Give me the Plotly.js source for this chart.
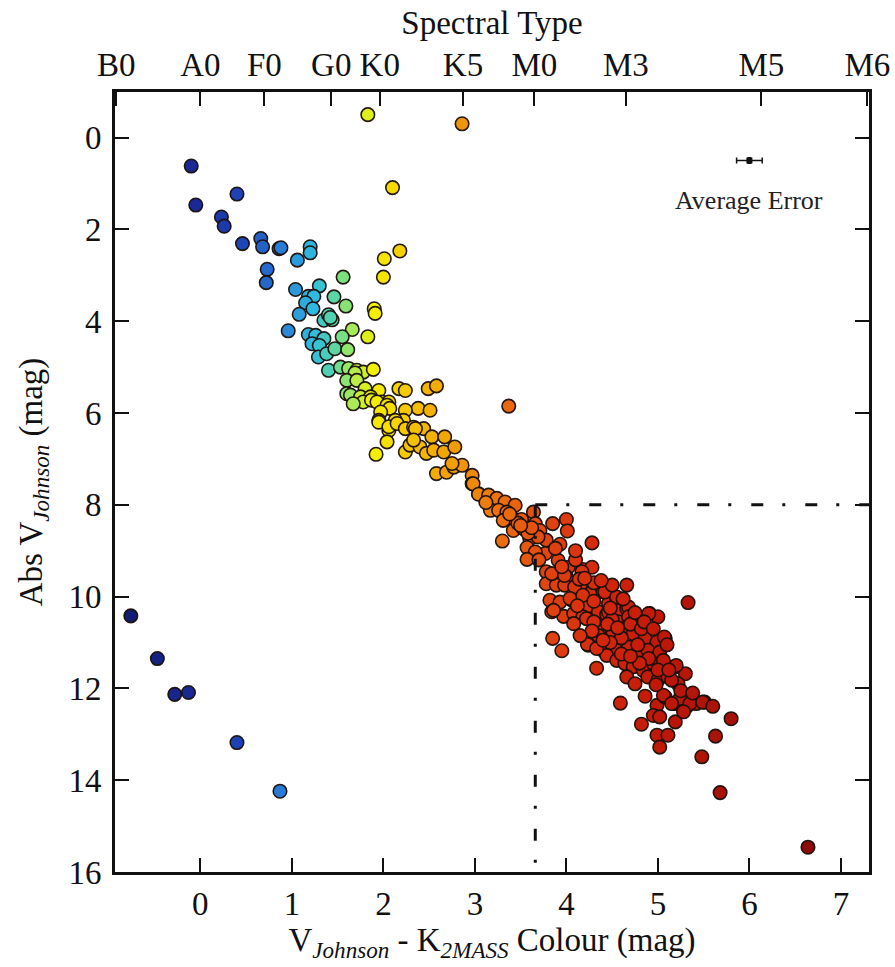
<!DOCTYPE html>
<html>
<head>
<meta charset="utf-8">
<script src="https://cdn.plot.ly/plotly-3.0.1.min.js"></script>
<style>html,body{margin:0;padding:0;background:#fff;}#chart{width:895px;height:967px;}</style>
</head>
<body>
<div id="chart"></div>
<script>
// Colour index V(Johnson) - K(2MASS), mag
const colourIndex = [
 -0.10,-0.05,0.40,0.23,0.26,0.46,0.66,0.68,0.86,0.88,1.06,1.20,1.20,0.73,0.72,1.04,1.30,1.18,1.24,1.15,1.23,1.08,1.35,1.40,1.44,1.42,0.96,1.18,1.26,1.35,1.22,1.30,1.29,1.38,1.40,
 1.56,1.46,1.59,1.66,1.55,1.47,1.61,
 1.83,2.86,2.10,2.01,2.18,2.00,1.90,1.91,1.83,
 1.53,1.62,1.71,1.78,1.89,1.69,1.60,1.71,1.80,1.95,1.60,1.67,1.64,1.75,1.86,1.78,1.87,1.98,2.06,1.67,1.93,2.04,
 2.07,1.97,2.17,2.24,2.49,2.58,3.37,2.38,2.51,2.24,2.22,2.13,1.95,1.95,2.06,2.06,2.15,2.24,2.33,2.44,2.35,2.53,2.67,
 2.04,1.92,2.24,2.29,2.40,2.47,2.55,2.66,2.78,2.33,2.58,2.69,2.77,2.86,2.75,2.97,2.97,3.04,
 2.98,3.04,3.15,3.24,3.33,3.44,3.17,3.26,3.35,3.64,3.42,3.51,3.31,3.85,4.00,4.01,3.66,3.42,3.53,3.71,3.30,3.60,3.78,3.69,3.93,4.28,3.57,3.77,3.66,3.57,3.91,4.02,4.18,4.28,3.78,3.91,4.00,3.78,3.89,3.98,4.15,4.26,4.40,4.66,3.82,3.93,4.06,3.84,3.97,4.22,4.35,4.46,4.55,4.44,4.57,4.66,4.08,4.18,
 3.47,3.58,3.62,3.50,3.12,3.38,
 3.84,3.98,4.17,4.09,4.04,4.18,4.42,4.55,4.68,3.86,4.08,4.22,4.46,4.57,4.68,4.77,4.91,5.00,4.39,4.51,4.62,4.73,4.86,4.99,5.08,3.85,3.95,4.24,4.40,4.53,4.68,4.79,4.89,5.02,4.33,4.44,4.55,4.64,4.73,4.84,4.95,5.06,5.19,5.30,4.66,4.75,4.89,5.00,5.11,5.22,4.59,4.86,4.99,5.08,5.19,5.31,5.42,5.51,
 5.33,5.07,5.20,5.15,5.06,5.24,5.35,5.49,5.60,5.80,5.15,4.95,4.82,5.02,5.19,5.28,4.99,5.11,5.02,5.63,5.48,5.68,6.64,4.23,4.33,4.90,
 4.30,4.50,4.60,4.35,4.48,4.78,4.90,4.60,4.70,4.82,4.45,4.12,4.30,4.14,4.30,4.50,
 4.10,4.20,4.38,4.48,4.62,4.75,4.85,4.95,5.10,5.00,5.12,4.80,4.70,4.98,5.25,5.38,4.40,4.56,4.28,4.15,3.95,3.70,3.88,4.10,
 -0.76,-0.47,-0.28,-0.13,0.40,0.87
];
// Absolute V(Johnson) magnitude
const absMag = [
 0.62,1.47,1.23,1.73,1.93,2.31,2.20,2.38,2.42,2.40,2.67,2.38,2.51,2.87,3.16,3.31,3.23,3.46,3.46,3.60,3.73,3.85,3.98,3.86,3.97,3.92,4.21,4.29,4.31,4.38,4.49,4.53,4.78,4.71,5.07,
 3.04,3.47,3.67,4.18,4.34,4.60,4.62,
 -0.50,-0.30,1.09,2.64,2.47,3.04,3.73,3.83,4.34,
 5.00,5.03,5.07,5.11,5.05,5.13,5.29,5.29,5.47,5.51,5.58,5.69,5.61,5.65,5.65,5.76,5.72,5.76,5.76,5.80,5.76,5.83,
 5.90,5.98,5.47,5.51,5.47,5.41,5.85,5.90,5.94,5.94,6.16,6.16,6.16,6.20,6.38,6.30,6.23,6.34,6.31,6.34,6.34,6.52,6.52,
 6.63,6.90,6.85,6.70,6.74,6.88,6.81,6.85,6.74,6.59,7.32,7.29,7.18,7.14,7.10,7.36,7.54,7.76,
 7.54,7.77,7.79,7.86,7.94,8.01,8.12,8.12,8.16,8.16,8.30,8.32,8.34,8.41,8.32,8.57,8.41,8.56,8.52,8.56,8.79,8.74,8.77,8.70,8.86,8.83,8.93,9.06,9.03,9.19,9.21,9.36,9.41,9.36,9.46,9.56,9.57,9.72,9.75,9.75,9.79,9.93,9.90,9.75,10.08,10.12,10.08,10.33,10.43,10.23,10.33,10.15,10.04,10.39,10.30,10.26,10.37,10.44,
 8.40,8.62,8.50,8.45,7.95,8.20,
 9.50,9.54,9.46,9.79,10.04,9.97,9.90,10.01,10.23,10.30,10.59,10.48,10.34,10.55,10.44,10.55,10.37,10.44,10.66,10.77,10.70,10.81,10.91,10.99,10.91,10.91,11.18,11.06,11.17,11.13,11.10,11.32,11.17,11.21,11.56,11.28,11.39,11.46,11.53,11.61,11.46,11.39,11.53,11.68,11.75,11.90,11.75,11.82,11.75,11.90,12.32,12.17,12.37,12.19,12.33,12.41,12.33,12.30,
 10.13,10.88,11.50,11.82,12.15,12.22,12.33,12.30,12.39,12.66,12.33,12.59,12.78,12.62,12.73,12.51,13.02,13.02,13.28,13.04,13.49,14.27,15.46,11.04,11.13,10.37,
 10.55,10.50,10.90,10.85,11.00,11.05,11.35,11.25,10.60,10.70,10.60,10.20,10.10,9.62,9.70,9.75,
 9.20,9.60,9.65,10.25,10.05,10.35,10.55,10.70,11.05,11.60,11.60,11.45,11.30,11.92,12.05,12.10,10.95,10.68,10.75,10.85,9.35,9.20,8.95,9.00,
 10.42,11.35,12.13,12.09,13.18,14.24
];
// Spectral type tick positions (colour index) and labels
const spectralPos = [-0.92, 0.0, 0.70, 1.43, 1.96, 2.87, 3.65, 4.65, 6.13, 7.29];
const spectralLabels = ['B0','A0','F0','G0','K0','K5','M0','M3','M5','M6'];
const colourTicks = [0,1,2,3,4,5,6,7];
const magTicks = [0,2,4,6,8,10,12,14,16];
// Average error bar
const avgErrX = [6.0], avgErrY = [0.5], avgErrDX = [0.14], avgErrDY = [0.06];
// M dwarf selection cut
const cutColour = 3.66, cutMag = 8.0;

const serif = 'Liberation Serif, Times New Roman, serif';
const jetLike = [
 [0.000,'#121a66'],[0.122,'#1a2a9a'],[0.181,'#1f45b8'],[0.240,'#2a7ed8'],
 [0.286,'#2ebde0'],[0.319,'#64da98'],[0.345,'#b8ee48'],[0.371,'#f4f000'],
 [0.423,'#f6c400'],[0.489,'#f09a08'],[0.555,'#ea6e10'],[0.620,'#e04410'],
 [0.699,'#d4260c'],[0.778,'#c01808'],[0.869,'#a81208'],[1.000,'#8a0c0c']
];

const stars = {
  type:'scatter', mode:'markers', x:colourIndex, y:absMag, xaxis:'x', yaxis:'y',
  marker:{size:13.5, color:colourIndex, colorscale:jetLike, cmin:-0.93, cmax:6.7,
          line:{color:'rgba(25,15,10,0.95)', width:1.6}},
  hoverinfo:'x+y', showlegend:false
};
const errTrace = {
  type:'scatter', mode:'markers', x:avgErrX, y:avgErrY,
  marker:{size:6, color:'#111', symbol:'square'},
  error_x:{type:'data', array:avgErrDX, color:'#111', thickness:1.5, width:3},
  error_y:{type:'data', array:avgErrDY, color:'#111', thickness:1.5, width:2},
  showlegend:false, hoverinfo:'skip'
};
const topDummy = {type:'scatter', mode:'markers', x:[0], y:[0], xaxis:'x2', yaxis:'y',
  marker:{opacity:0}, showlegend:false, hoverinfo:'skip'};

const FS = 33;
const layout = {
  width:895, height:967,
  margin:{l:114.5, r:25.7, t:91.7, b:95.3},
  paper_bgcolor:'#fff', plot_bgcolor:'#fff',
  font:{family:serif, size:FS, color:'#111'},
  xaxis:{range:[-0.933,7.307], tickvals:colourTicks, ticks:'inside', ticklen:14, tickwidth:2,
         tickcolor:'#111', showline:true, linewidth:3, linecolor:'#111', mirror:true,
         showgrid:false, zeroline:false, tickfont:{family:serif, size:FS},
         title:{text:'V<sub><i>Johnson</i></sub> - K<sub><i>2MASS</i></sub> Colour (mag)', font:{family:serif, size:FS}, standoff:6}},
  xaxis2:{overlaying:'x', side:'top', range:[-0.933,7.307], tickvals:spectralPos, ticktext:spectralLabels,
          ticks:'inside', ticklen:14, tickwidth:2, tickcolor:'#111', showgrid:false, zeroline:false,
          showline:false, tickfont:{family:serif, size:FS}, ticklabelstandoff:8,
          title:{text:'Spectral Type', font:{family:serif, size:FS}, standoff:2}},
  yaxis:{range:[16,-0.993], tickvals:magTicks, ticks:'inside', ticklen:14, tickwidth:2, tickcolor:'#111',
         showline:true, linewidth:3, linecolor:'#111', mirror:'ticks', showgrid:false, zeroline:false,
         tickfont:{family:serif, size:FS}, ticklabelstandoff:4,
         title:{text:'Abs V<sub><i>Johnson</i></sub> (mag)', font:{family:serif, size:FS}, standoff:16}},
  shapes:[
    {type:'line', xref:'x', yref:'y', x0:cutColour, x1:cutColour, y0:cutMag, y1:16,
     line:{color:'#111', width:3, dash:'12px,19px,3px,20px'}},
    {type:'line', xref:'x', yref:'y', x0:cutColour, x1:7.307, y0:cutMag, y1:cutMag,
     line:{color:'#111', width:3, dash:'12px,19px,3px,20px'}}
  ],
  annotations:[
    {xref:'x', yref:'y', x:avgErrX[0], y:avgErrY[0]+0.87, text:'Average Error', showarrow:false,
     font:{family:serif, size:26, color:'#222'}}
  ]
};
Plotly.newPlot('chart', [stars, errTrace, topDummy], layout, {displayModeBar:false, staticPlot:true});
</script>
</body>
</html>
